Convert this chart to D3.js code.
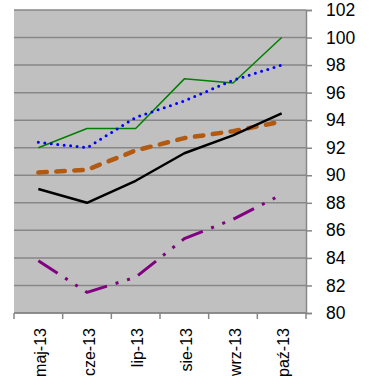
<!DOCTYPE html>
<html>
<head>
<meta charset="utf-8">
<script src="https://cdn.jsdelivr.net/npm/d3@7"></script>
<style>
  body { margin: 0; background: #ffffff; }
</style>
</head>
<body>
<script>
// DATA
var months = ["maj-13", "cze-13", "lip-13", "sie-13", "wrz-13", "paź-13"];
var greenSeries  = [92.0, 93.4, 93.4, 97.0, 96.7, 100.0];
var blueSeries   = [92.4, 92.0, 94.2, 95.4, 96.9, 98.0];
var blackSeries  = [89.0, 88.0, 89.6, 91.6, 92.9, 94.5];
var brownSeries  = [90.2, 90.4, 91.8, 92.7, 93.2, 93.9];
var purpleSeries = [83.8, 81.5, 82.6, 85.4, 86.8, 88.6];
var yTicks = [80, 82, 84, 86, 88, 90, 92, 94, 96, 98, 100, 102];

var width = 376;
var height = 385;
// plot area edges (note: "top" is a reserved window global, so use other names)
var plotLeft = 14, plotRight = 306, plotTop = 10, plotBottom = 313;

var svg = d3.select("body").append("svg")
  .attr("width", width).attr("height", height)
  .attr("viewBox", "0,0," + width + "," + height);

var x = d3.scaleBand().domain(months).range([plotLeft, plotRight]);
var y = d3.scaleLinear().domain([80, 102]).range([plotBottom, plotTop]);

//PLOT AREA
svg.append("rect")
  .attr("x", plotLeft).attr("y", plotTop)
  .attr("width", plotRight - plotLeft).attr("height", plotBottom - plotTop)
  .attr("fill", "#c0c0c0");

//GRIDLINES
svg.selectAll("line.grid").data(yTicks).enter().append("line")
  .attr("class", "grid")
  .attr("x1", plotLeft).attr("x2", plotRight)
  .attr("y1", d => y(d)).attr("y2", d => y(d))
  .attr("stroke", "#878787")
  .attr("stroke-width", 1.5);

//RIGHT AXIS
var yAxis = svg.append("g")
  .attr("transform", "translate(" + plotRight + ",0)")
  .call(d3.axisRight(y).tickValues(yTicks).tickSize(6).tickPadding(14).tickFormat(d3.format("d")));
yAxis.select(".domain").attr("stroke", "#878787").attr("stroke-width", 1.5);
yAxis.selectAll(".tick line").attr("stroke", "#878787").attr("stroke-width", 1.5);
yAxis.selectAll(".tick text")
  .attr("font-family", "Liberation Sans, Arial")
  .attr("font-size", "17.5px")
  .attr("fill", "#000");

//BOTTOM AXIS (ticks on band edges)
var edges = months.map(m => x(m)).concat([plotRight]);
svg.append("line")
  .attr("x1", plotLeft).attr("x2", plotRight)
  .attr("y1", plotBottom).attr("y2", plotBottom)
  .attr("stroke", "#878787").attr("stroke-width", 1.5);
svg.selectAll("line.xtick").data(edges).enter().append("line")
  .attr("class", "xtick")
  .attr("x1", d => d).attr("x2", d => d)
  .attr("y1", plotBottom).attr("y2", plotBottom + 6)
  .attr("stroke", "#878787").attr("stroke-width", 1.5);
svg.selectAll("text.xlabel").data(months).enter().append("text")
  .attr("class", "xlabel")
  .text(d => d)
  .attr("transform", d => "translate(" + (x(d) + x.bandwidth() / 2 + 2) + "," + (plotBottom + 15) + ") rotate(-90)")
  .attr("dy", "0.35em")
  .attr("text-anchor", "end")
  .attr("font-family", "Liberation Sans, Arial")
  .attr("font-size", "16px")
  .attr("fill", "#000");

//SERIES
var line = d3.line()
  .x((d, i) => x(months[i]) + x.bandwidth() / 2)
  .y(d => y(d));

var series = [
  {data: brownSeries,  colour: "#b35a12", w: 4.5, dash: "8.5,9.5", cap: "round"},
  {data: purpleSeries, colour: "#800080", w: 3,   dash: "23,9,3,9,3,9", cap: "butt"},
  {data: blackSeries,  colour: "#000000", w: 2.5, dash: null, cap: "butt"},
  {data: greenSeries,  colour: "#008000", w: 1.5, dash: null, cap: "butt"},
  {data: blueSeries,   colour: "#0000ff", w: 3,   dash: "0,6.5", cap: "round"}
];

series.forEach(s => {
  svg.append("path")
    .attr("d", line(s.data))
    .attr("fill", "none")
    .attr("stroke", s.colour)
    .attr("stroke-width", s.w)
    .attr("stroke-linecap", s.cap)
    .attr("stroke-linejoin", "round")
    .attr("stroke-dasharray", s.dash);
});
</script>
</body>
</html>
